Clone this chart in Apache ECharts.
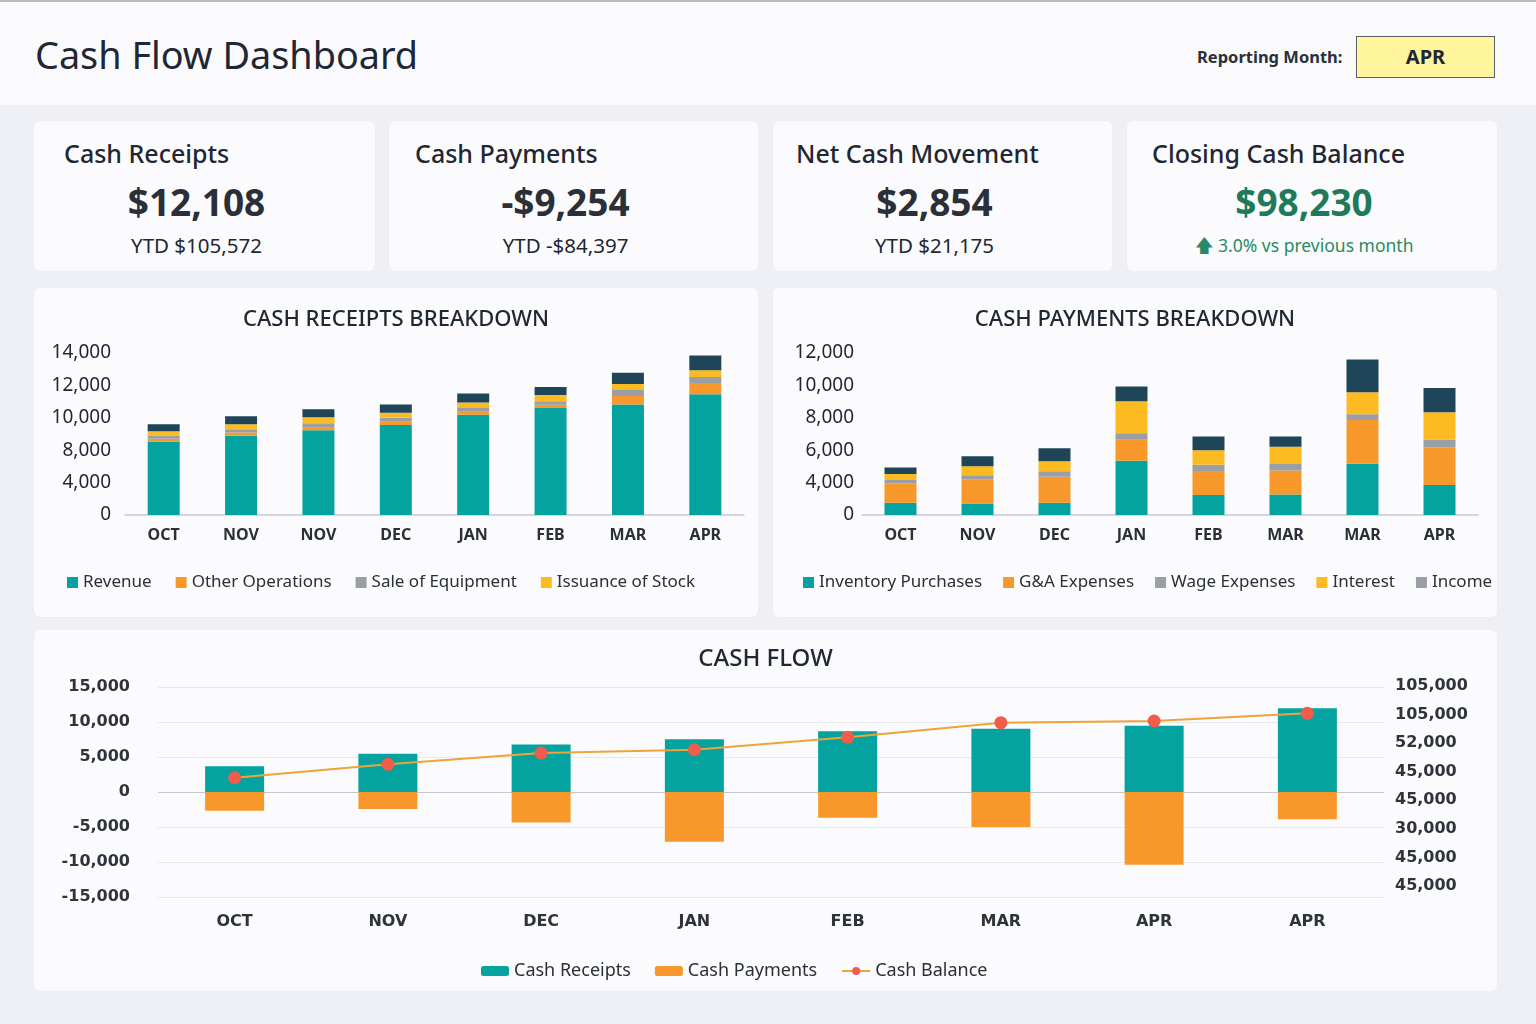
<!DOCTYPE html>
<html>
<head>
<meta charset="utf-8">
<script src="https://cdn.jsdelivr.net/npm/echarts@6/dist/echarts.min.js"></script>
<style>
html,body{margin:0;padding:0;}
body{width:1536px;height:1024px;background:#eff0f5;font-family:"Noto Sans",sans-serif;color:#1f2733;position:relative;overflow:hidden;}
#topline{position:absolute;left:0;top:0;width:1536px;height:2px;background:#b6bac2;}
#header{position:absolute;left:0;top:2px;width:1536px;height:103px;background:#fafafc;}
#title{position:absolute;left:35px;top:27px;font-size:37.8px;line-height:56px;color:#1f2733;white-space:nowrap;}
#rmLabel{position:absolute;left:1197px;top:45px;font-size:16.5px;font-weight:bold;line-height:24px;color:#2a2f38;white-space:nowrap;}
#rmBox{position:absolute;left:1356px;top:36px;width:137px;height:40px;background:#fff59d;border:1px solid #5a5f68;text-align:center;font-weight:bold;font-size:20px;line-height:40px;color:#1f2733;}
.card{position:absolute;background:#fbfbfd;border-radius:6px;box-shadow:0 0 2px rgba(0,0,0,0.03);}
.kt{position:absolute;top:14px;font-size:25px;font-weight:500;line-height:36px;white-space:nowrap;color:#1f2733;}
.kv{position:absolute;top:58px;left:0;right:16px;text-align:center;font-size:37px;font-weight:bold;line-height:46px;color:#2a2f38;white-space:nowrap;}
.ky{position:absolute;top:110px;left:0;right:16px;text-align:center;font-size:20.5px;line-height:28px;color:#1f2733;white-space:nowrap;}
.green{color:#1f7a5b;}
.kg{color:#2a8a66;font-size:17.5px;}
.chart{position:absolute;}
</style>
</head>
<body>
<div id="topline"></div>
<div id="header"></div>
<div id="title">Cash Flow Dashboard</div>
<div id="rmLabel">Reporting Month:</div>
<div id="rmBox">APR</div>

<div class="card" style="left:34px;top:121px;width:341px;height:150px;">
  <div class="kt" style="left:30px;">Cash Receipts</div>
  <div class="kv">$12,108</div>
  <div class="ky">YTD $105,572</div>
</div>
<div class="card" style="left:389px;top:121px;width:369px;height:150px;">
  <div class="kt" style="left:26px;">Cash Payments</div>
  <div class="kv">-$9,254</div>
  <div class="ky">YTD -$84,397</div>
</div>
<div class="card" style="left:773px;top:121px;width:339px;height:150px;">
  <div class="kt" style="left:23px;">Net Cash Movement</div>
  <div class="kv">$2,854</div>
  <div class="ky">YTD $21,175</div>
</div>
<div class="card" style="left:1127px;top:121px;width:370px;height:150px;">
  <div class="kt" style="left:25px;">Closing Cash Balance</div>
  <div class="kv green">$98,230</div>
  <div class="ky kg">&#129093; 3.0% vs previous month</div>
</div>

<div id="rec" class="card chart" style="left:34px;top:288px;width:724px;height:329px;"></div>
<div id="pay" class="card chart" style="left:773px;top:288px;width:724px;height:329px;"></div>
<div id="cf" class="card chart" style="left:34px;top:630px;width:1463px;height:361px;"></div>

<script>
// ---------- DATA ----------
const recMonths = ['OCT','NOV','NOV','DEC','JAN','FEB','MAR','APR'];
const recTicks = ['0','4,000','8,000','10,000','12,000','14,000'];
const revenue        = [6340, 6850, 7320, 7780, 8660, 9240, 9560, 10440];
const otherOps       = [260, 290, 220, 280, 260, 280, 720, 970];
const saleEquipment  = [260, 280, 380, 340, 320, 320, 520, 520];
const issuanceStock  = [380, 430, 520, 430, 490, 520, 520, 580];
const otherReceipts  = [600, 690, 690, 720, 780, 710, 970, 1270];

const payMonths = ['OCT','NOV','DEC','JAN','FEB','MAR','MAR','APR'];
const payTicks = ['0','4,000','6,000','8,000','10,000','12,000'];
const inventoryPurchases = [900, 850, 900, 4020, 1490, 1520, 3800, 2230];
const gaExpenses         = [1450, 1800, 1940, 1550, 1770, 1770, 3240, 2780];
const wageExpenses       = [240, 290, 400, 490, 460, 490, 420, 590];
const interest           = [440, 680, 740, 2360, 1080, 1270, 1640, 2010];
const income             = [490, 740, 960, 1100, 1010, 770, 2410, 1790];

const cfMonths = ['OCT','NOV','DEC','JAN','FEB','MAR','APR','APR'];
const cashReceipts = [3690, 5460, 6790, 7550, 8670, 9020, 9480, 11950];
const cashPayments = [-2670, -2420, -4360, -7120, -3690, -5000, -10410, -3890];
const cashBalance  = [74300, 79280, 83480, 84700, 89310, 94740, 95370, 98230];
const rightTicks = ['105,000','105,000','52,000','45,000','45,000','30,000','45,000','45,000'];

// ---------- STYLE ----------
const TEAL='#05a39f', ORANGE='#f8982a', GREY='#9a9ea6', YELLOW='#fcbc21', NAVY='#1f4559';
const FONT='Noto Sans';
const BOLDF='DejaVu Sans';

function stackSeries(list, stack){
  return list.map(([name, data, color]) => ({
    name, type:'bar', stack, data, barWidth:32,
    itemStyle:{color}, emphasis:{disabled:true}
  }));
}

function breakdownOption(title, months, ticks, maxV, seriesList, legendData){
  const step = maxV/(ticks.length-1);
  return {
    animation:false,
    title:{text:title,left:'center',top:16,textStyle:{fontFamily:FONT,fontSize:22,fontWeight:500,color:'#1f2733'}},
    grid:{left:91,right:14,top:65,bottom:102,outerBoundsMode:'none'},
    xAxis:{type:'category',data:months,
      axisLine:{lineStyle:{color:'#c9ccd6',width:1.5}},axisTick:{show:false},
      axisLabel:{margin:12,fontFamily:FONT,fontWeight:'bold',fontSize:16,color:'#2a2f38'}},
    yAxis:{type:'value',min:0,max:maxV,interval:step,
      splitLine:{show:false},axisLine:{show:false},axisTick:{show:false},
      axisLabel:{margin:14,fontFamily:FONT,fontSize:19,color:'#1f2733',
        formatter:v=>ticks[Math.round(v/step)]}},
    legend:{left:28,top:281,width:900,icon:'rect',itemWidth:11,itemHeight:11,itemGap:24,
      textStyle:{fontFamily:FONT,fontSize:17,color:'#2a2f38'},
      data:legendData},
    series:seriesList
  };
}

const rec = echarts.init(document.getElementById('rec'));
rec.setOption(breakdownOption('CASH RECEIPTS BREAKDOWN', recMonths, recTicks, 14000,
  stackSeries([
    ['Revenue', revenue, TEAL],
    ['Other Operations', otherOps, ORANGE],
    ['Sale of Equipment', saleEquipment, GREY],
    ['Issuance of Stock', issuanceStock, YELLOW],
    ['Other Receipts', otherReceipts, NAVY]
  ],'r'),
  ['Revenue','Other Operations','Sale of Equipment','Issuance of Stock']));

const pay = echarts.init(document.getElementById('pay'));
const payOpt = breakdownOption('CASH PAYMENTS BREAKDOWN', payMonths, payTicks, 12000,
  stackSeries([
    ['Inventory Purchases', inventoryPurchases, TEAL],
    ['G&A Expenses', gaExpenses, ORANGE],
    ['Wage Expenses', wageExpenses, GREY],
    ['Interest', interest, YELLOW],
    ['Income', income, NAVY]
  ],'p'),
  ['Inventory Purchases','G&A Expenses','Wage Expenses','Interest',{name:'Income',itemStyle:{color:GREY}}]);
payOpt.legend.itemGap = 21;
payOpt.legend.left = 25;
payOpt.grid.left = 89; payOpt.grid.right = 19;
payOpt.yAxis.axisLabel.margin = 8;
pay.setOption(payOpt);

const cf = echarts.init(document.getElementById('cf'));
const gl = '#e6e8ee';
cf.setOption({
  animation:false,
  title:{text:'CASH FLOW',left:'center',top:12,textStyle:{fontFamily:FONT,fontSize:24,fontWeight:500,color:'#1f2733'}},
  grid:[
    {left:124,right:113,top:57,bottom:94,outerBoundsMode:'none'},
    {left:124,right:113,top:56,height:200,outerBoundsMode:'none'}
  ],
  xAxis:[
    {gridIndex:0,type:'category',data:cfMonths,
      axisLine:{show:false},axisTick:{show:false},
      axisLabel:{margin:17,fontFamily:BOLDF,fontWeight:'bold',fontSize:16,color:'#2f343c'}},
    {gridIndex:1,type:'value',show:false}
  ],
  yAxis:[
    {gridIndex:0,type:'value',min:-15000,max:15000,interval:5000,
      axisLine:{show:false},axisTick:{show:false},
      splitLine:{lineStyle:{color:[gl,gl,gl,'#c4c7d1',gl,gl,gl],width:1.2}},
      axisLabel:{margin:28,fontFamily:BOLDF,fontWeight:'bold',fontSize:16,color:'#2f343c',
        formatter:v=>v.toLocaleString('en-US')}},
    {gridIndex:0,type:'value',min:30000,max:108000,show:false,splitLine:{show:false}},
    {gridIndex:1,type:'category',position:'right',inverse:true,boundaryGap:false,data:rightTicks,
      axisLine:{show:false},axisTick:{show:false},splitLine:{show:false},
      axisLabel:{margin:11,fontFamily:BOLDF,fontWeight:'bold',fontSize:16,color:'#2f343c'}}
  ],
  legend:{left:442,top:327,itemWidth:28,itemHeight:10,itemGap:24,
    textStyle:{fontFamily:FONT,fontSize:18,color:'#2a2f38'},
    data:['Cash Receipts','Cash Payments','Cash Balance']},
  series:[
    {name:'Cash Receipts',type:'bar',stack:'cf',barWidth:59,data:cashReceipts,itemStyle:{color:TEAL},emphasis:{disabled:true}},
    {name:'Cash Payments',type:'bar',stack:'cf',barWidth:59,data:cashPayments,itemStyle:{color:ORANGE},emphasis:{disabled:true}},
    {name:'Cash Balance',type:'line',yAxisIndex:1,data:cashBalance,symbol:'circle',symbolSize:13,
      lineStyle:{color:'#eea43a',width:2},itemStyle:{color:'#f25c4a'},emphasis:{disabled:true}}
  ]
});
</script>
</body>
</html>
